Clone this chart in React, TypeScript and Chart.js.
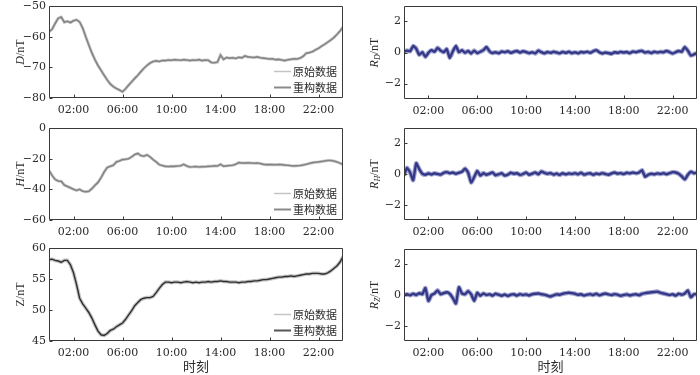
import React, { useEffect, useRef } from 'react';
import { Chart, registerables } from 'chart.js';
Chart.register(...registerables);

// ---------- data ----------
const SAMPLE_STEP_H = 0.25;
const X_TICK_HOURS = [2, 6, 10, 14, 18, 22];
const X_TICK_LABELS = ['02:00', '06:00', '10:00', '14:00', '18:00', '22:00'];
const D_TICKS = [-80, -70, -60, -50];
const H_TICKS = [-60, -40, -20, 0];
const Z_TICKS = [45, 50, 55, 60];
const R_TICKS = [-2, 0, 2];
const LEGEND_LABELS = ['原始数据', '重构数据'];
const X_TITLE = '时刻';

const D_NT = [
  -58.4, -57.6, -55.7, -54.0, -53.6, -55.3, -55.0, -55.4, -54.8, -54.5, -55.2, -57.2,
  -60.0, -62.7, -65.3, -67.5, -69.4, -71.0, -72.6, -74.1, -75.4, -76.3, -76.9, -77.4,
  -78.0, -77.0, -75.8, -74.7, -73.6, -72.6, -71.4, -70.3, -69.4, -68.6, -68.1, -67.9,
  -68.1, -67.8, -67.8, -67.6, -67.7, -67.5, -67.6, -67.7, -67.5, -67.6, -67.8, -67.6,
  -67.7, -67.5, -67.8, -67.6, -67.7, -68.4, -68.5, -68.3, -66.0, -67.4, -66.8, -67.0,
  -66.9, -67.1, -66.7, -66.9, -66.3, -66.6, -66.7, -66.8, -66.6, -66.9, -67.0, -67.1,
  -67.3, -67.2, -67.5, -67.4, -67.6, -67.8, -67.5, -67.4, -67.2, -67.3, -67.0, -66.4,
  -65.4, -65.2, -64.9, -64.3, -63.8, -63.1, -62.5, -61.8, -61.1, -60.3, -59.3, -58.2,
  -56.8,
];

const H_NT = [
  -27.6, -30.9, -33.5, -34.6, -34.8, -37.2, -38.1, -39.0, -40.0, -40.7, -40.0, -41.2,
  -41.6, -41.3, -39.6, -37.4, -35.5, -32.4, -28.7, -25.8, -25.0, -24.3, -22.1, -21.5,
  -20.6, -20.4, -20.0, -18.8, -17.3, -16.6, -18.0, -18.4, -17.5, -18.8, -20.6, -22.1,
  -23.9, -24.5, -25.0, -25.1, -24.9, -25.0, -24.8, -24.6, -23.7, -24.8, -25.4, -25.3,
  -25.1, -25.4, -25.2, -25.3, -25.0, -24.9, -24.7, -24.8, -23.7, -24.9, -24.7, -24.5,
  -24.3, -23.6, -22.6, -22.8, -22.9, -22.7, -22.8, -23.0, -22.8, -23.2, -23.7, -23.9,
  -23.8, -23.9, -24.0, -23.8, -23.9, -24.2, -24.3, -24.6, -24.7, -24.6, -24.5, -24.1,
  -23.7, -23.1, -22.6, -22.3, -22.1, -21.8, -21.5, -21.2, -21.2, -21.5, -22.1, -22.9,
  -23.9,
];

const Z_NT = [
  58.1, 58.2, 58.0, 57.9, 57.7, 58.0, 58.0, 57.3, 56.0, 54.1, 51.9, 51.0,
  50.3, 49.6, 48.7, 47.6, 46.6, 46.0, 45.9, 46.2, 46.7, 46.9, 47.3, 47.6,
  47.9, 48.5, 49.2, 49.9, 50.7, 51.2, 51.7, 51.9, 52.0, 52.0, 52.2, 52.8,
  53.5, 54.1, 54.5, 54.5, 54.4, 54.5, 54.5, 54.4, 54.5, 54.6, 54.5, 54.4,
  54.5, 54.4, 54.5, 54.5, 54.6, 54.5, 54.6, 54.6, 54.7, 54.6, 54.6, 54.5,
  54.5, 54.5, 54.4, 54.5, 54.5, 54.6, 54.6, 54.7, 54.7, 54.8, 54.9, 54.9,
  55.0, 55.1, 55.2, 55.3, 55.3, 55.4, 55.4, 55.5, 55.4, 55.5, 55.6, 55.7,
  55.8, 55.8, 55.9, 55.9, 55.9, 55.8, 55.8, 56.0, 56.3, 56.7, 57.1, 57.7,
  58.6,
];

const RD_NT = [
  0.05, 0.12, 0.08, 0.42, 0.25, -0.15, 0.02, -0.28, -0.02, 0.15, 0.05, 0.3,
  0.12, 0.02, 0.22, -0.35, 0.08, 0.42, 0.02, 0.15, -0.02, 0.1, -0.06, 0.12,
  -0.04, 0.05, 0.15, 0.36, 0.08, -0.03, 0.02, -0.05, 0.06, 0.02, 0.08, -0.02,
  0.05, 0.1, 0.0, 0.08, 0.03, -0.04, 0.02, -0.06, 0.12, 0.02, -0.05, 0.03,
  -0.02, 0.05, 0.0, -0.05, 0.04, -0.02, 0.05, -0.04, 0.02, -0.05, 0.03, 0.0,
  0.05, -0.02, 0.08, 0.15, 0.02, -0.06, 0.0, -0.04, -0.08, 0.02, -0.02, 0.04,
  0.0, 0.03, -0.04, 0.06, 0.02, 0.08, 0.1, 0.0, 0.04, -0.03, 0.05, 0.0,
  0.04, 0.02, 0.1, 0.03, -0.06, 0.02, 0.1, 0.05, 0.35, 0.12, -0.2, -0.12,
  -0.05,
];

const RH_NT = [
  -0.1, 0.4, 0.1, -0.4, 0.7, 0.32, 0.02, -0.05, 0.04, -0.03, 0.05, 0.0,
  -0.04, 0.08, 0.12, 0.05, 0.1, 0.02, 0.08, 0.15, 0.35, 0.1, -0.55, -0.2,
  0.2, -0.1, 0.06, -0.05, 0.02, 0.1, -0.08, -0.02, 0.05, -0.1, -0.04, 0.08,
  0.02, 0.05, -0.06, 0.0, 0.1, -0.05, 0.02, 0.1, -0.02, 0.16, 0.08, 0.02,
  0.06, -0.04, 0.03, -0.06, 0.05, -0.02, 0.04, 0.0, 0.06, -0.02, 0.08, -0.04,
  0.02, 0.05, -0.05, 0.03, -0.02, 0.06, 0.0, -0.05, 0.04, 0.1, 0.02, 0.06,
  0.0, 0.08, 0.04, 0.1, 0.05, 0.1, 0.25, -0.18, -0.05, 0.02, -0.02, 0.04,
  0.0, 0.06, -0.02, 0.05, 0.12, 0.1, 0.02, -0.15, -0.35, -0.05, 0.15, 0.05,
  0.1,
];

const RZ_NT = [
  0.0, 0.05, -0.02, 0.08, 0.0, 0.12, 0.05, 0.45, -0.38, 0.0, 0.1, 0.3,
  0.05, 0.12, 0.18, 0.08, -0.2, -0.55, 0.5, 0.1, 0.05, 0.25, 0.05, -0.38,
  0.15, -0.05, 0.1, 0.0, 0.05, -0.04, 0.08, 0.02, -0.05, 0.03, -0.06, 0.02,
  0.05, -0.04, 0.06, 0.0, 0.04, -0.03, 0.05, 0.08, 0.1, 0.05, 0.02, -0.04,
  -0.1, -0.02, 0.04, 0.02, 0.08, 0.12, 0.15, 0.12, 0.08, 0.02, 0.05, -0.03,
  0.02, 0.06, 0.0, 0.08, -0.02, 0.05, 0.1, 0.04, 0.0, 0.06, 0.02, -0.05,
  0.0, 0.04, -0.03, 0.02, 0.05, -0.02, 0.08, 0.12, 0.15, 0.18, 0.2, 0.22,
  0.15, 0.1, 0.05, 0.0, 0.05, -0.04, 0.08, 0.02, 0.1, 0.3, -0.15, 0.05,
  0.05,
];

// ---------- styling ----------
const TICK_FONT = { family: '"DejaVu Serif", serif', size: 11 };
const TITLE_FAMILY = '"Liberation Serif", "DejaVu Serif", serif';
const CJK_FAMILY = '"Noto Sans CJK SC", sans-serif';
const TEXT_COLOR = '#2a2a2a';
const FRAME_COLOR = '#3a3a3a';
const X_AXIS_H = 20;
const CANVAS_W = 350;
const CANVAS_H = 375;

type Seg = { t: string; it?: boolean; sub?: boolean };
type Spec = {
  key: string;
  canvasLeft: number;
  left: number; right: number; top: number; bottom: number;
  yMin: number; yMax: number; yTicks: number[];
  title: Seg[]; titleX: number;
  legend?: { colors: string[]; widths: number[] };
  xTitle?: boolean;
  datasets: any[];
};

const toPts = (vals: number[]) => vals.map((v, i) => ({ x: i * SAMPLE_STEP_H, y: v }));
const fmtY = (v: number) => (v < 0 ? '\u2212' + Math.abs(v) : String(v));

const grayPair = (vals: number[], dark: string, darkW: number, light: string, lightW: number) => [
  { label: LEGEND_LABELS[1], data: toPts(vals), borderColor: dark, borderWidth: darkW, pointRadius: 0, tension: 0 },
  { label: LEGEND_LABELS[0], data: toPts(vals), borderColor: light, borderWidth: lightW, pointRadius: 0, tension: 0 },
];
const blue = (vals: number[]) => [
  { label: 'R', data: toPts(vals), borderColor: '#343886', borderWidth: 2.4, pointRadius: 0, tension: 0.15, borderJoinStyle: 'round' },
  { label: 'R halo', data: toPts(vals), borderColor: 'rgba(88,94,170,0.55)', borderWidth: 4.6, pointRadius: 0, tension: 0.15, borderJoinStyle: 'round' },
];

const SPECS: Spec[] = [
  { key: 'D', canvasLeft: 0, left: 49, right: 343, top: 6, bottom: 98, yMin: -80, yMax: -50, yTicks: D_TICKS,
    title: [{ t: 'D', it: true }, { t: '/nT' }], titleX: 20,
    legend: { colors: ['#c4c4c4', '#8a8a8a'], widths: [1.5, 2] },
    datasets: grayPair(D_NT, '#858585', 1.6, '#cacaca', 3) },
  { key: 'H', canvasLeft: 0, left: 49, right: 343, top: 128, bottom: 220, yMin: -60, yMax: 0, yTicks: H_TICKS,
    title: [{ t: 'H', it: true }, { t: '/nT' }], titleX: 20,
    legend: { colors: ['#c4c4c4', '#8a8a8a'], widths: [1.5, 2] },
    datasets: grayPair(H_NT, '#858585', 1.6, '#cacaca', 3) },
  { key: 'Z', canvasLeft: 0, left: 49, right: 343, top: 248, bottom: 341, yMin: 45, yMax: 60, yTicks: Z_TICKS,
    title: [{ t: 'Z/nT' }], titleX: 20,
    legend: { colors: ['#c4c4c4', '#555555'], widths: [1.5, 2] },
    xTitle: true,
    datasets: grayPair(Z_NT, '#2e2e2e', 1.4, '#c2c2c2', 3.6) },
  { key: 'RD', canvasLeft: 350, left: 54, right: 347, top: 6, bottom: 99, yMin: -3, yMax: 3, yTicks: R_TICKS,
    title: [{ t: 'R', it: true }, { t: 'D', it: true, sub: true }, { t: '/nT' }], titleX: 24,
    datasets: blue(RD_NT) },
  { key: 'RH', canvasLeft: 350, left: 54, right: 347, top: 128, bottom: 220, yMin: -3, yMax: 3, yTicks: R_TICKS,
    title: [{ t: 'R', it: true }, { t: 'H', it: true, sub: true }, { t: '/nT' }], titleX: 24,
    datasets: blue(RH_NT) },
  { key: 'RZ', canvasLeft: 350, left: 54, right: 347, top: 249, bottom: 341, yMin: -3, yMax: 3, yTicks: R_TICKS,
    title: [{ t: 'R', it: true }, { t: 'Z', it: true, sub: true }, { t: '/nT' }], titleX: 24,
    xTitle: true,
    datasets: blue(RZ_NT) },
];

function makeDecorPlugin(spec: Spec) {
  return {
    id: 'decor_' + spec.key,
    afterDraw(chart: any) {
      const ctx = chart.ctx as CanvasRenderingContext2D;
      const a = chart.chartArea;
      const xs = chart.scales.x;
      const ys = chart.scales.y;
      const L = Math.round(a.left) + 0.5;
      const R = Math.round(a.right) - 0.5;
      const T = Math.round(a.top) + 0.5;
      const B = Math.round(a.bottom) - 0.5;
      ctx.save();
      // frame
      ctx.strokeStyle = FRAME_COLOR;
      ctx.lineWidth = 1;
      ctx.beginPath();
      ctx.rect(L, T, R - L, B - T);
      ctx.stroke();
      // inward ticks
      ctx.beginPath();
      X_TICK_HOURS.forEach((h) => {
        const px = Math.round(xs.getPixelForValue(h)) + 0.5;
        ctx.moveTo(px, B);
        ctx.lineTo(px, B - 3);
      });
      spec.yTicks.forEach((v) => {
        const py = Math.round(ys.getPixelForValue(v)) + 0.5;
        ctx.moveTo(L, py);
        ctx.lineTo(L + 3, py);
      });
      ctx.stroke();

      // y title (rotated, mixed styles)
      const cy = (a.top + a.bottom) / 2;
      const fontOf = (s: Seg) => `${s.it ? 'italic ' : ''}${s.sub ? 8 : 12}px ${TITLE_FAMILY}`;
      let total = 0;
      spec.title.forEach((s) => { ctx.font = fontOf(s); total += ctx.measureText(s.t).width; });
      ctx.translate(spec.titleX, cy);
      ctx.rotate(-Math.PI / 2);
      ctx.fillStyle = TEXT_COLOR;
      ctx.textBaseline = 'alphabetic';
      ctx.textAlign = 'left';
      let x0 = -total / 2;
      spec.title.forEach((s) => {
        ctx.font = fontOf(s);
        ctx.fillText(s.t, x0, s.sub ? 6 : 4);
        x0 += ctx.measureText(s.t).width;
      });
      ctx.setTransform(1, 0, 0, 1, 0, 0);

      // legend
      if (spec.legend) {
        ctx.font = `11px ${CJK_FAMILY}`;
        ctx.textBaseline = 'middle';
        ctx.textAlign = 'left';
        const rows = [a.bottom - 27, a.bottom - 11];
        rows.forEach((y, i) => {
          ctx.strokeStyle = spec.legend!.colors[i];
          ctx.lineWidth = spec.legend!.widths[i];
          ctx.beginPath();
          ctx.moveTo(a.right - 69, Math.round(y) + 0.5);
          ctx.lineTo(a.right - 52, Math.round(y) + 0.5);
          ctx.stroke();
          ctx.fillStyle = TEXT_COLOR;
          ctx.fillText(LEGEND_LABELS[i], a.right - 50, y + 0.5);
        });
      }

      // x title
      if (spec.xTitle) {
        ctx.font = `13px ${CJK_FAMILY}`;
        ctx.textAlign = 'center';
        ctx.textBaseline = 'middle';
        ctx.fillStyle = TEXT_COLOR;
        ctx.fillText(X_TITLE, (a.left + a.right) / 2, 366);
      }
      ctx.restore();
    },
  };
}

function buildConfig(spec: Spec): any {
  return {
    type: 'line',
    data: { datasets: spec.datasets },
    options: {
      animation: false,
      responsive: false,
      maintainAspectRatio: false,
      devicePixelRatio: 1,
      events: [],
      layout: {
        padding: {
          left: 0,
          top: spec.top,
          right: CANVAS_W - spec.right,
          bottom: CANVAS_H - spec.bottom - X_AXIS_H,
        },
      },
      plugins: { legend: { display: false }, tooltip: { enabled: false } },
      scales: {
        x: {
          type: 'linear',
          min: 0,
          max: 24,
          grid: { display: false, drawTicks: false },
          border: { display: false },
          afterBuildTicks: (s: any) => { s.ticks = X_TICK_HOURS.map((v) => ({ value: v })); },
          ticks: {
            font: TICK_FONT,
            color: TEXT_COLOR,
            padding: 6,
            maxRotation: 0,
            autoSkip: false,
            callback: (v: number) => X_TICK_LABELS[X_TICK_HOURS.indexOf(v)] ?? '',
          },
          afterFit: (s: any) => { s.height = X_AXIS_H; s.paddingLeft = 0; s.paddingRight = 0; },
        },
        y: {
          type: 'linear',
          min: spec.yMin,
          max: spec.yMax,
          grid: { display: false, drawTicks: false },
          border: { display: false },
          afterBuildTicks: (s: any) => { s.ticks = spec.yTicks.map((v) => ({ value: v })); },
          ticks: {
            font: TICK_FONT,
            color: TEXT_COLOR,
            padding: 3,
            autoSkip: false,
            callback: (v: number) => fmtY(v),
          },
          afterFit: (s: any) => { s.width = spec.left; s.paddingTop = 0; s.paddingBottom = 0; },
        },
      },
    },
    plugins: [makeDecorPlugin(spec)],
  };
}

function Panel({ spec }: { spec: Spec }) {
  const ref = useRef<HTMLCanvasElement | null>(null);
  useEffect(() => {
    if (!ref.current) return;
    const chart = new Chart(ref.current, buildConfig(spec));
    return () => chart.destroy();
  }, [spec]);
  return (
    <canvas
      ref={ref}
      width={CANVAS_W}
      height={CANVAS_H}
      style={{ position: 'absolute', left: spec.canvasLeft, top: 0, width: CANVAS_W, height: CANVAS_H }}
    />
  );
}

export default function App() {
  return (
    <div style={{ position: 'fixed', left: 0, top: 0, width: 700, height: 375, background: '#ffffff', overflow: 'hidden' }}>
      {SPECS.map((s) => (
        <Panel key={s.key} spec={s} />
      ))}
    </div>
  );
}
